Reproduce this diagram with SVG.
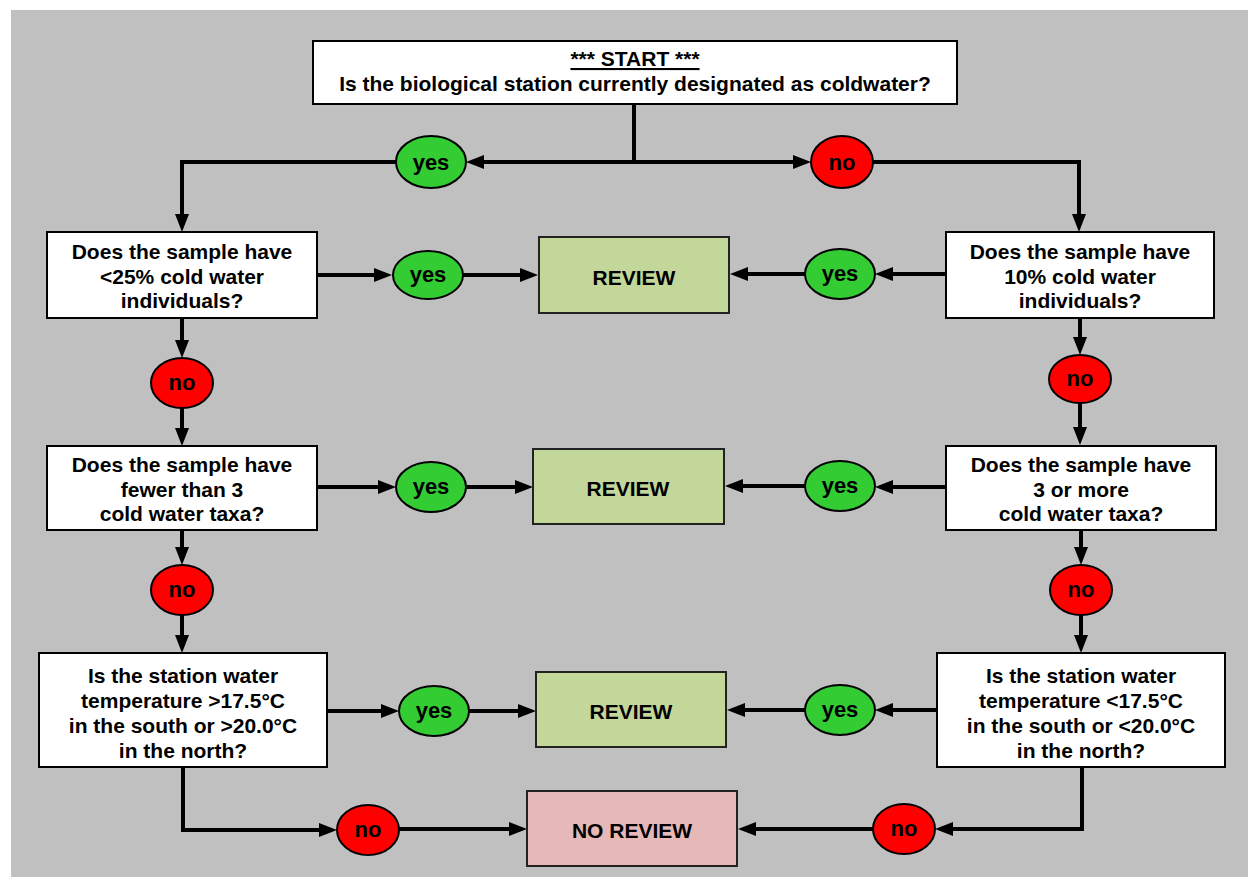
<svg xmlns="http://www.w3.org/2000/svg" width="1248" height="877" viewBox="0 0 1248 877">
  <defs>
    <marker id="arrow" viewBox="0 0 18 14" markerWidth="18" markerHeight="14" refX="10" refY="7" orient="auto" markerUnits="userSpaceOnUse">
      <path d="M0,0 L18,7 L0,14 z" fill="#000"/>
    </marker>
    <style>
      text { font-family: "Liberation Sans", Arial, Helvetica, sans-serif; font-weight: bold; font-size: 21px; fill: #000; text-anchor: middle; }
      .o { font-size: 22px; }
      .q { fill: #fff; stroke: #000; stroke-width: 2; }
      .review { fill: #C4D79B; stroke: #222; stroke-width: 2; }
      .noreview { fill: #E6B9B8; stroke: #222; stroke-width: 2; }
      .yes { fill: #33CC33; stroke: #000; stroke-width: 2; }
      .no { fill: #FF0000; stroke: #000; stroke-width: 2; }
      .link { fill: none; stroke: #000; stroke-width: 4; marker-end: url(#arrow); }
      .plain { fill: none; stroke: #000; stroke-width: 4; }
    </style>
  </defs>

  <!-- page background -->
  <rect x="0" y="0" width="1248" height="877" fill="#fff"/>
  <rect x="11" y="10" width="1237" height="867" fill="#C0C0C0"/>

  <!-- connectors -->
  <g id="connectors">
    <path class="plain" d="M634,104 V162"/>
    <path class="link" d="M636,162 H474"/>
    <path class="link" d="M632,162 H803"/>
    <path class="link" d="M396,162 H182 V224"/>
    <path class="link" d="M873,162 H1079 V224"/>

    <path class="link" d="M317,275 H384"/>
    <path class="link" d="M463,275 H530"/>
    <path class="link" d="M946,274 H883"/>
    <path class="link" d="M805,274 H738"/>
    <path class="link" d="M182,318 V350"/>
    <path class="link" d="M182,408 V438"/>
    <path class="link" d="M1080,318 V347"/>
    <path class="link" d="M1080,403 V437"/>

    <path class="link" d="M317,487 H388"/>
    <path class="link" d="M466,487 H525"/>
    <path class="link" d="M946,487 H883"/>
    <path class="link" d="M805,486 H733"/>
    <path class="link" d="M182,530 V557"/>
    <path class="link" d="M182,615 V645"/>
    <path class="link" d="M1081,530 V557"/>
    <path class="link" d="M1081,615 V645"/>

    <path class="link" d="M327,711 H391"/>
    <path class="link" d="M469,711 H528"/>
    <path class="link" d="M937,710 H883"/>
    <path class="link" d="M805,710 H735"/>

    <path class="link" d="M183,767 V830 H329"/>
    <path class="link" d="M399,829 H519"/>
    <path class="link" d="M1082,767 V829 H943"/>
    <path class="link" d="M873,829 H746"/>
  </g>

  <!-- start question -->
  <g id="start">
    <rect class="q" x="313" y="41" width="644" height="63"/>
    <text x="635" y="66" text-decoration="underline">*** START ***</text>
    <text x="635" y="91">Is the biological station currently designated as coldwater?</text>
  </g>

  <g id="start-yes">
    <ellipse class="yes" cx="431" cy="162" rx="35" ry="26"/>
    <text class="o" x="431" y="170">yes</text>
  </g>
  <g id="start-no">
    <ellipse class="no" cx="842" cy="162" rx="31" ry="26"/>
    <text class="o" x="842" y="170">no</text>
  </g>

  <!-- left branch: designated coldwater -->
  <g id="left-q1">
    <rect class="q" x="47" y="232" width="270" height="86"/>
    <text x="182" y="259">Does the sample have</text>
    <text x="182" y="284">&lt;25% cold water</text>
    <text x="182" y="308">individuals?</text>
  </g>
  <g id="left-q1-yes">
    <ellipse class="yes" cx="428" cy="275" rx="35" ry="24"/>
    <text class="o" x="428" y="282">yes</text>
  </g>
  <g id="left-q1-no">
    <ellipse class="no" cx="182" cy="383" rx="31" ry="25"/>
    <text class="o" x="182" y="390">no</text>
  </g>

  <g id="left-q2">
    <rect class="q" x="47" y="446" width="270" height="84"/>
    <text x="182" y="472">Does the sample have</text>
    <text x="182" y="497">fewer than 3</text>
    <text x="182" y="521">cold water taxa?</text>
  </g>
  <g id="left-q2-yes">
    <ellipse class="yes" cx="431" cy="487" rx="35" ry="25"/>
    <text class="o" x="431" y="494">yes</text>
  </g>
  <g id="left-q2-no">
    <ellipse class="no" cx="182" cy="590" rx="31" ry="25"/>
    <text class="o" x="182" y="597">no</text>
  </g>

  <g id="left-q3">
    <rect class="q" x="39" y="653" width="288" height="114"/>
    <text x="183" y="683">Is the station water</text>
    <text x="183" y="708">temperature &gt;17.5°C</text>
    <text x="183" y="733">in the south or &gt;20.0°C</text>
    <text x="183" y="758">in the north?</text>
  </g>
  <g id="left-q3-yes">
    <ellipse class="yes" cx="434" cy="711" rx="35" ry="25"/>
    <text class="o" x="434" y="718">yes</text>
  </g>
  <g id="left-q3-no">
    <ellipse class="no" cx="368" cy="830" rx="31" ry="25"/>
    <text class="o" x="368" y="837">no</text>
  </g>

  <!-- right branch: not designated coldwater -->
  <g id="right-q1">
    <rect class="q" x="946" y="232" width="268" height="86"/>
    <text x="1080" y="259">Does the sample have</text>
    <text x="1080" y="284">10% cold water</text>
    <text x="1080" y="308">individuals?</text>
  </g>
  <g id="right-q1-yes">
    <ellipse class="yes" cx="840" cy="274" rx="35" ry="25"/>
    <text class="o" x="840" y="281">yes</text>
  </g>
  <g id="right-q1-no">
    <ellipse class="no" cx="1080" cy="379" rx="31" ry="24"/>
    <text class="o" x="1080" y="386">no</text>
  </g>

  <g id="right-q2">
    <rect class="q" x="946" y="446" width="270" height="84"/>
    <text x="1081" y="472">Does the sample have</text>
    <text x="1081" y="497">3 or more</text>
    <text x="1081" y="521">cold water taxa?</text>
  </g>
  <g id="right-q2-yes">
    <ellipse class="yes" cx="840" cy="486" rx="35" ry="25"/>
    <text class="o" x="840" y="493">yes</text>
  </g>
  <g id="right-q2-no">
    <ellipse class="no" cx="1081" cy="590" rx="31" ry="25"/>
    <text class="o" x="1081" y="597">no</text>
  </g>

  <g id="right-q3">
    <rect class="q" x="937" y="653" width="288" height="114"/>
    <text x="1081" y="683">Is the station water</text>
    <text x="1081" y="708">temperature &lt;17.5°C</text>
    <text x="1081" y="733">in the south or &lt;20.0°C</text>
    <text x="1081" y="758">in the north?</text>
  </g>
  <g id="right-q3-yes">
    <ellipse class="yes" cx="840" cy="710" rx="35" ry="25"/>
    <text class="o" x="840" y="717">yes</text>
  </g>
  <g id="right-q3-no">
    <ellipse class="no" cx="904" cy="829" rx="31" ry="25"/>
    <text class="o" x="904" y="836">no</text>
  </g>

  <!-- outcomes -->
  <g id="review-1">
    <rect class="review" x="539" y="237" width="190" height="76"/>
    <text x="634" y="285">REVIEW</text>
  </g>
  <g id="review-2">
    <rect class="review" x="533" y="449" width="191" height="75"/>
    <text x="628" y="496">REVIEW</text>
  </g>
  <g id="review-3">
    <rect class="review" x="536" y="672" width="190" height="75"/>
    <text x="631" y="719">REVIEW</text>
  </g>
  <g id="no-review">
    <rect class="noreview" x="527" y="791" width="210" height="75"/>
    <text x="632" y="838">NO REVIEW</text>
  </g>
</svg>
